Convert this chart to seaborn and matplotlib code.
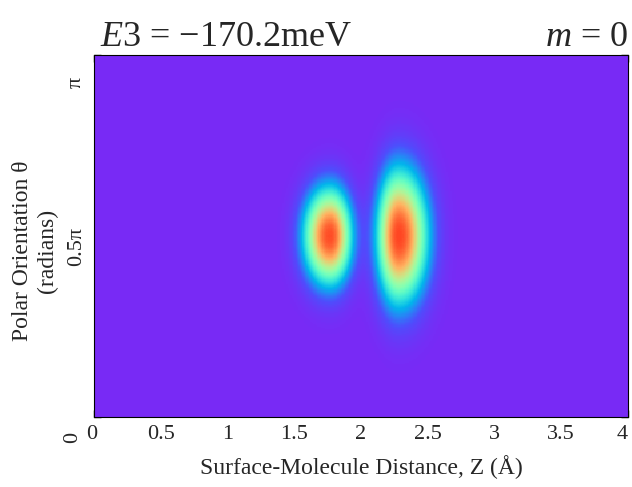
import numpy as np
import matplotlib
matplotlib.use("Agg")
import matplotlib.pyplot as plt
import matplotlib.transforms as mtransforms
from matplotlib.colors import LinearSegmentedColormap
import seaborn as sns

# ---- data ----
z_range = [0.0, 4.0]                      # Surface-molecule distance (Å)
theta_range = [0.0, np.pi]                # polar orientation (rad)
lobe_z = [1.765, 2.285]                   # lobe centres in Z (Å)
lobe_theta = [0.5 * np.pi, 0.5 * np.pi]   # lobe centres in theta (rad)
lobe_width_z_inner = [0.135, 0.115]       # width towards smaller Z (Å)
lobe_width_z_outer = [0.115, 0.150]       # width towards larger Z (Å)
lobe_width_theta = [0.29, 0.40]           # width in theta (rad)
lobe_peak = [0.90, 0.91]                  # peak density (colour scale 0..1)
lobe_flatness = [1.15, 1.15]
x_ticks = [0, 0.5, 1, 1.5, 2, 2.5, 3, 3.5, 4]
x_tick_labels = ["0", "0.5", "1", "1.5", "2", "2.5", "3", "3.5", "4"]
y_ticks = [0.0, 0.5 * np.pi, np.pi]
y_tick_labels = ["0", "0.5π", "π"]
title_left = "$E$3 = −170.2meV"
title_right = "$m$ = 0"

# ---- density grid ----
nz, nt = 400, 300
z = np.linspace(z_range[0], z_range[1], nz)
theta = np.linspace(theta_range[1], theta_range[0], nt)  # top row = pi
Z, T = np.meshgrid(z, theta)
dens = np.zeros_like(Z)
for z0, t0, szi, szo, st, a, q in zip(lobe_z, lobe_theta, lobe_width_z_inner,
                                      lobe_width_z_outer, lobe_width_theta,
                                      lobe_peak, lobe_flatness):
    sz = np.where(Z < z0, szi, szo)
    rho2 = ((Z - z0) / sz) ** 2 + ((T - t0) / st) ** 2
    dens += a * np.exp(-(rho2 / 2) ** q)

# colormap: rainbow with the reference's purple base
rb = plt.get_cmap("rainbow")
nodes = [(0.0, (120 / 255, 42 / 255, 245 / 255))]
for v in np.linspace(0.1, 1.0, 19):
    nodes.append((v, rb(v)[:3]))
cmap = LinearSegmentedColormap.from_list("ref_rainbow", nodes)

sns.set_style("white")
plt.rcParams["font.family"] = ["Liberation Serif", "DejaVu Serif"]
plt.rcParams["mathtext.fontset"] = "custom"
plt.rcParams["mathtext.rm"] = "Liberation Serif"
plt.rcParams["mathtext.it"] = "Liberation Serif:italic"

fig = plt.figure(figsize=(6.32, 4.87), dpi=100)
ax = fig.add_axes([94 / 632, 70 / 487, 534 / 632, 362 / 487])
sns.heatmap(dens, ax=ax, cmap=cmap, vmin=0, vmax=1, cbar=False,
            xticklabels=False, yticklabels=False, rasterized=True)

# map physical values to cell coordinates
def zpos(v):
    return (v - z_range[0]) / (z_range[1] - z_range[0]) * nz

def tpos(v):
    return (theta_range[1] - v) / (theta_range[1] - theta_range[0]) * nt

ax.set_xticks([zpos(v) for v in x_ticks])
ax.set_xticklabels(x_tick_labels, fontsize=16, rotation=0)
ax.set_yticks([tpos(v) for v in y_ticks])
ax.set_yticklabels(y_tick_labels, fontsize=16, rotation=90, va="center")

ax.tick_params(direction="in", length=5, width=1, color="black",
               top=True, right=True, bottom=True, left=True,
               labeltop=False, labelright=False, pad=6)

def shift(lab, dx, dy):
    lab.set_transform(lab.get_transform() +
                      mtransforms.ScaledTranslation(dx / 100, dy / 100, fig.dpi_scale_trans))

# shift tick labels as in the reference
y_offsets = {"0": (-4, -20), "0.5π": (0, -10), "π": (0, -27)}
for lab in ax.get_yticklabels():
    shift(lab, *y_offsets.get(lab.get_text(), (0, 0)))
x_offsets = {"0": (-2, 0), "4": (-6, 0)}
for lab in ax.get_xticklabels():
    shift(lab, *x_offsets.get(lab.get_text(), (0, 0)))

for s in ax.spines.values():
    s.set_visible(True)
    s.set_color("black")
    s.set_linewidth(0.8)

ax.set_xlabel("Surface-Molecule Distance, Z (Å)", fontsize=17, labelpad=8)
ax.set_ylabel("Polar Orientation θ\n(radians)", fontsize=17)
ax.yaxis.set_label_coords(-0.068, 0.46)

fig.text(100 / 632, 1 - 46 / 487, title_left, fontsize=26, ha="left", va="baseline")
fig.text(628 / 632, 1 - 46 / 487, title_right, fontsize=26, ha="right", va="baseline")

fig.savefig("out.png", dpi=100)
